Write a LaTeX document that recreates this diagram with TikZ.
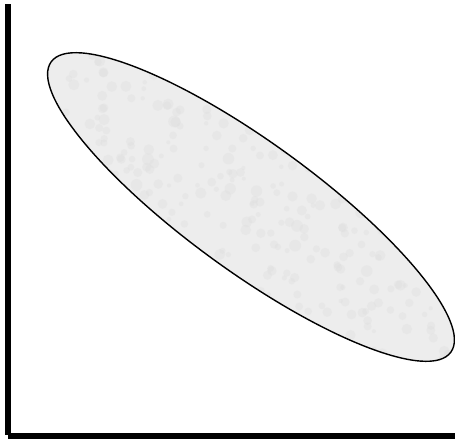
\documentclass[tikz,border=0pt]{standalone}
\begin{document}
\begin{tikzpicture}[x=1pt,y=-1pt,
  axisbar/.style={fill=black,draw=none},
  blob/.style={draw=black,line width=1.4pt},
  mottle/.style={fill=black!13,opacity=0.35}]
\useasboundingbox (0,0) rectangle (455,439);
\fill[white] (0,0) rectangle (455,439);
% ellipse fill with texture
\begin{scope}
  \clip (251,207) ellipse [x radius=247, y radius=64.5, rotate=-36];
  \fill[black!7] (0,0) rectangle (455,439);
  \pgfmathsetseed{7}
  \foreach \i in {1,...,600}{
    \pgfmathsetmacro{\px}{40+rnd*420}
    \pgfmathsetmacro{\py}{40+rnd*340}
    \pgfmathsetmacro{\pr}{2+rnd*4}
    \fill[mottle] (\px,\py) circle (\pr);
  }
\end{scope}
\draw[blob] (251,207) ellipse [x radius=247, y radius=64.5, rotate=-36];
% axes
\fill[axisbar] (5,4) rectangle (11,435);
\fill[axisbar] (8,433) rectangle (455,439);
\end{tikzpicture}
\end{document}
